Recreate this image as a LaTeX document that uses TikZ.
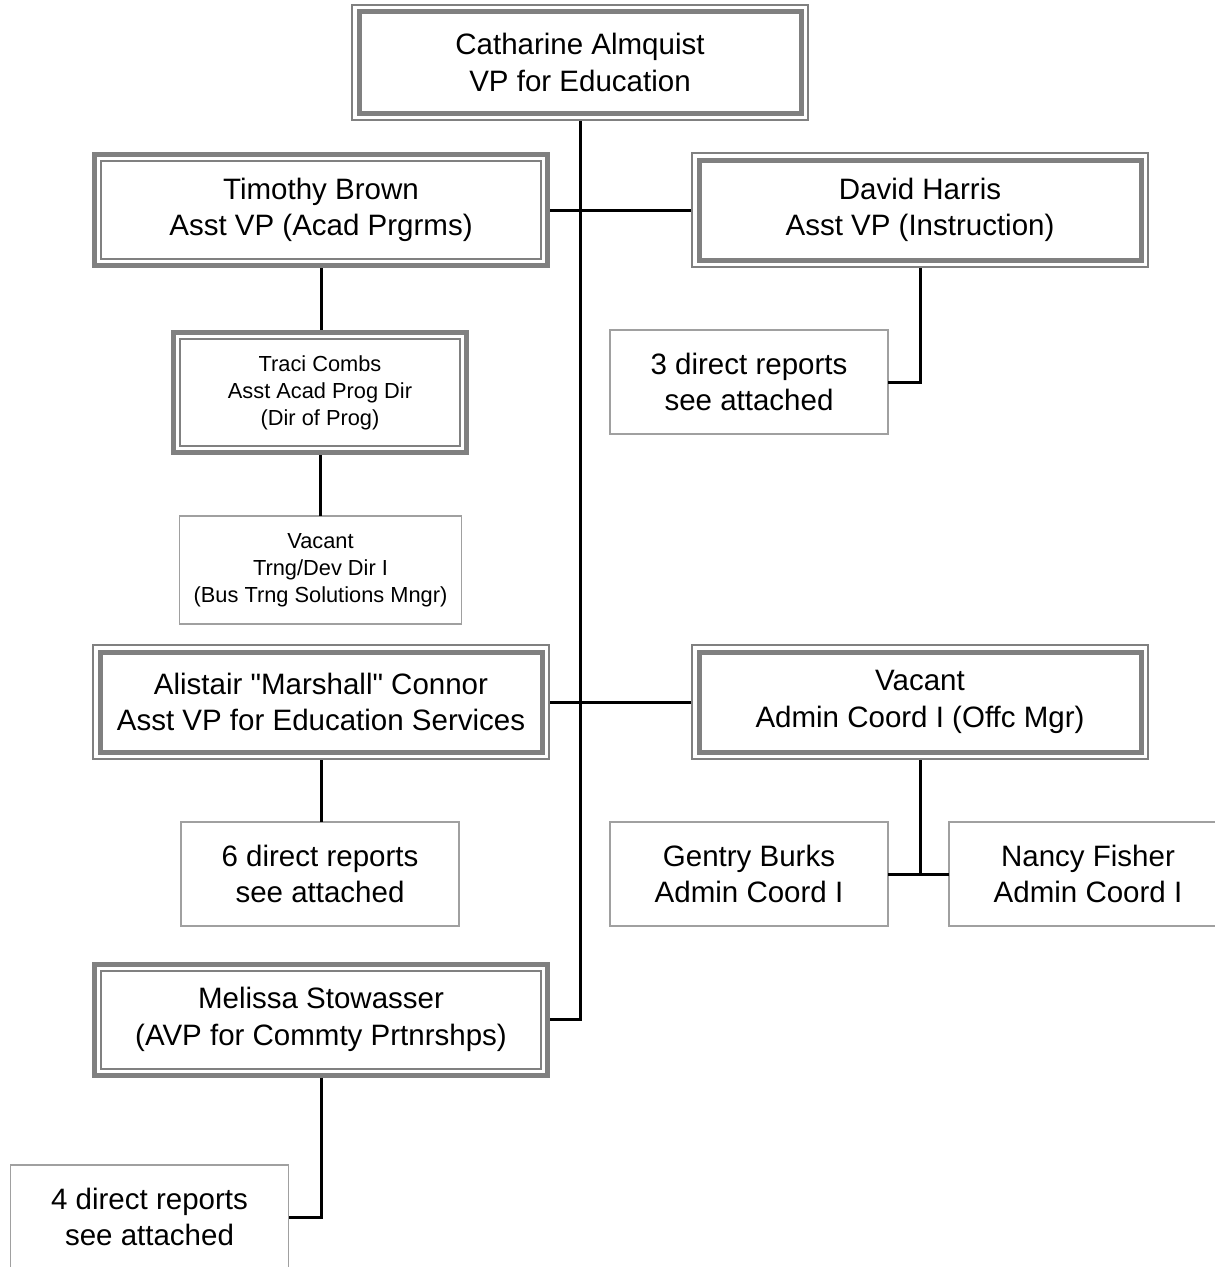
\documentclass[tikz,border=0pt]{standalone}
\usepackage{fontspec}
\setmainfont{Liberation Sans}
\newfontfamily\arial{Liberation Sans}
\definecolor{dgray}{HTML}{808080}
\definecolor{lgray}{HTML}{A0A0A0}
\begin{document}
\begin{tikzpicture}[x=1pt,y=-1pt,
  base/.style={rectangle, inner sep=0pt, outer sep=0pt, align=center, fill=white},
  big/.style={font=\arial\fontsize{29.5}{36.5}\selectfont},
  small/.style={font=\arial\fontsize{21.8}{27}\selectfont},
  sbox/.style={base, draw=lgray, line width=1.8pt},
  thickout/.style={base, path picture={
    \draw[dgray, line width=5pt]
      ([shift={(2.5pt,-2.5pt)}]path picture bounding box.north west) rectangle
      ([shift={(-2.5pt,2.5pt)}]path picture bounding box.south east);
    \draw[dgray, line width=2pt]
      ([shift={(9pt,-9pt)}]path picture bounding box.north west) rectangle
      ([shift={(-9pt,9pt)}]path picture bounding box.south east);}},
  thinout/.style={base, path picture={
    \draw[dgray, line width=2pt]
      ([shift={(1pt,-1pt)}]path picture bounding box.north west) rectangle
      ([shift={(-1pt,1pt)}]path picture bounding box.south east);
    \draw[dgray, line width=5pt]
      ([shift={(8pt,-8pt)}]path picture bounding box.north west) rectangle
      ([shift={(-8pt,8pt)}]path picture bounding box.south east);}},
  conn/.style={draw=black, line width=3pt}
]
\useasboundingbox (0,0) rectangle (1215,1267);

\node[thinout, big, minimum width=458pt, minimum height=117.5pt] (top) at (580,62.25)
  {Catharine Almquist\\VP for Education};
\node[thickout, big, minimum width=458pt, minimum height=116pt] (tb) at (321,210)
  {Timothy Brown\\Asst VP (Acad Prgrms)};
\node[thinout, big, minimum width=458pt, minimum height=116pt] (dh) at (920,210)
  {David Harris\\Asst VP (Instruction)};
\node[thickout, small, minimum width=298pt, minimum height=125pt] (tc) at (320,392.5)
  {Traci Combs\\Asst Acad Prog Dir\\(Dir of Prog)};
\node[sbox, small, minimum width=282pt, minimum height=108pt] (vt) at (320.5,570)
  {Vacant\\Trng/Dev Dir I\\(Bus Trng Solutions Mngr)};
\node[sbox, big, minimum width=278pt, minimum height=104pt] (r3) at (749,382)
  {3 direct reports\\see attached};
\node[thinout, big, minimum width=458pt, minimum height=116pt] (ac) at (321,702)
  {Alistair "Marshall" Connor\\Asst VP for Education Services};
\node[thinout, big, minimum width=458pt, minimum height=116pt] (va) at (920,702)
  {Vacant\\Admin Coord I (Offc Mgr)};
\node[sbox, big, minimum width=278pt, minimum height=104pt] (r6) at (320,874)
  {6 direct reports\\see attached};
\node[sbox, big, minimum width=278pt, minimum height=104pt] (gb) at (749,874)
  {Gentry Burks\\Admin Coord I};
\node[sbox, big, minimum width=278pt, minimum height=104pt] (nf) at (1088,874)
  {Nancy Fisher\\Admin Coord I};
\node[thickout, big, minimum width=458pt, minimum height=116pt] (mel) at (321,1019.5)
  {Melissa Stowasser\\(AVP for Commty Prtnrshps)};
\node[sbox, big, minimum width=278pt, minimum height=104pt] (r4) at (149.5,1217)
  {4 direct reports\\see attached};

\draw[conn] (top.south) |- (mel.east);
\draw[conn] (tb.east) -- (dh.west);
\draw[conn] (ac.east) -- (va.west);
\draw[conn] (tb.south) -- (tb.south |- tc.north);
\draw[conn] (tc.south) -- (tc.south |- vt.north);
\draw[conn] (dh.south) |- (r3.east);
\draw[conn] (ac.south) -- (ac.south |- r6.north);
\draw[conn] (va.south) -- (va.south |- gb.east);
\draw[conn] (gb.east) -- (nf.west);
\draw[conn] (mel.south) |- (r4.east);
\end{tikzpicture}
\end{document}
